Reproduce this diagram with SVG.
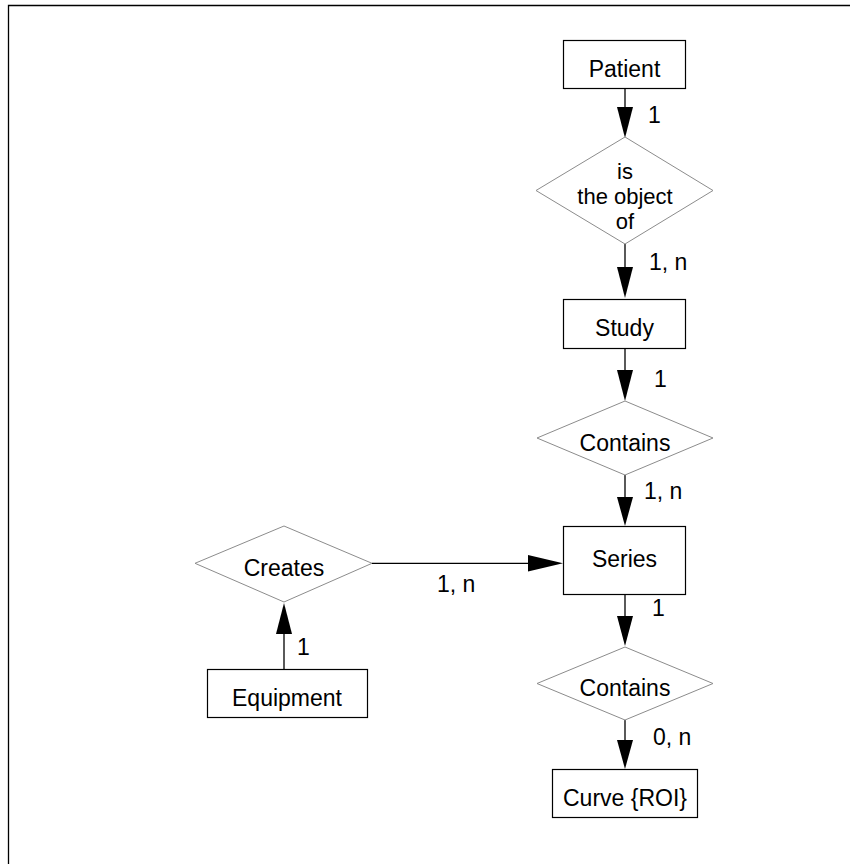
<svg xmlns="http://www.w3.org/2000/svg" width="850" height="864" viewBox="0 0 850 864">
<style>
text{font-family:"Liberation Sans",Arial,sans-serif;font-size:23px;fill:#000}
.c{text-anchor:middle}
.m{font-size:22px}
.box{fill:#fff;stroke:#000;stroke-width:1.2}
.dia{fill:#fff;stroke:#8c8c8c;stroke-width:1}
.ln{stroke:#000;stroke-width:1.3;fill:none}
.ah{fill:#000;stroke:none}
</style>
<rect x="0" y="0" width="850" height="864" fill="#fff"/>
<g id="frame"><path class="ln" d="M8.5,864 V5.5 H850"/></g>
<g id="connectors">
<line class="ln" x1="625" y1="89" x2="625" y2="108"/><polygon class="ah" points="617,107 633,107 625,138"/>
<line class="ln" x1="625" y1="244" x2="625" y2="268"/><polygon class="ah" points="617,267 633,267 625,298"/>
<line class="ln" x1="625" y1="349" x2="625" y2="371"/><polygon class="ah" points="617,370 633,370 625,401"/>
<line class="ln" x1="625" y1="475" x2="625" y2="498"/><polygon class="ah" points="617,497 633,497 625,526"/>
<line class="ln" x1="625" y1="595" x2="625" y2="617"/><polygon class="ah" points="617,616 633,616 625,646"/>
<line class="ln" x1="625" y1="720" x2="625" y2="741"/><polygon class="ah" points="617,740 633,740 625,769"/>
<line class="ln" x1="372" y1="563.3" x2="529" y2="563.3"/><polygon class="ah" points="528,555 528,571.5 563,563.3"/>
<line class="ln" x1="284" y1="669" x2="284" y2="633"/><polygon class="ah" points="276,634 292,634 284,603"/>
<text x="648" y="123">1</text>
<text x="649" y="270">1, n</text>
<text x="654" y="387">1</text>
<text x="644" y="499">1, n</text>
<text x="652" y="616">1</text>
<text x="653" y="745">0, n</text>
<text x="437" y="592">1, n</text>
<text x="297" y="655">1</text>
</g>
<g id="patient"><rect class="box" x="563.5" y="40.5" width="122" height="48"/><text class="c" x="624.5" y="76.7">Patient</text></g>
<g id="is-the-object-of"><polygon class="dia" points="625,137 713,190.5 625,244 536,190.5"/><text class="c m" x="625" y="179"><tspan x="625" y="179">is</tspan><tspan x="625" y="204">the object</tspan><tspan x="625" y="229">of</tspan></text></g>
<g id="study"><rect class="box" x="563.5" y="299.5" width="122" height="49"/><text class="c" x="624.5" y="335.7">Study</text></g>
<g id="contains1"><polygon class="dia" points="625,401 713,438 625,475 537,438"/><text class="c" x="625" y="451">Contains</text></g>
<g id="series"><rect class="box" x="563.5" y="526.5" width="122" height="68"/><text class="c" x="624.5" y="567">Series</text></g>
<g id="contains2"><polygon class="dia" points="625,647 713,683.5 625,720 537,683.5"/><text class="c" x="625" y="696">Contains</text></g>
<g id="curve"><rect class="box" x="552.5" y="769.5" width="145" height="48"/><text class="c" x="625" y="805.5">Curve {ROI}</text></g>
<g id="creates"><polygon class="dia" points="195,563.3 284,526 372,563.3 284,602"/><text class="c" x="284" y="575.7">Creates</text></g>
<g id="equipment"><rect class="box" x="207.5" y="669.5" width="160" height="48"/><text class="c" x="287" y="706">Equipment</text></g>
</svg>
